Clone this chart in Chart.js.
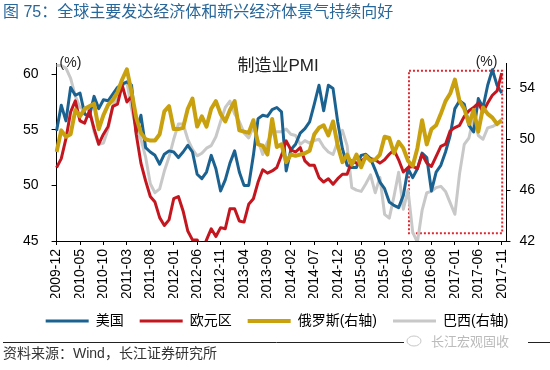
<!DOCTYPE html>
<html>
<head>
<meta charset="utf-8">
<script src="https://cdn.jsdelivr.net/npm/chart.js@4.4.0/dist/chart.umd.min.js"></script>
<style>
  html, body { margin: 0; padding: 0; background: #fff; }
</style>
</head>
<body>
<canvas id="myChart" width="550" height="370"></canvas>
<script>
const FONT = '"Liberation Sans", "Noto Sans CJK SC", sans-serif';

// monthly categories 2009-12 .. 2017-11, plus one empty slot so the axis runs past the last point
const months = [];
for (let y = 2009, m = 12; months.length < 97; m++) {
  if (m > 12) {
    m = 1;
    y++;
  }
  months.push(y + "-" + String(m).padStart(2, "0"));
}

const usData = [
  54.9,
  57.2, 55.8, 58.8, 58.1, 58.3, 56.4, 56.2, 58.0, 56.9, 57.7, 57.6, 58.2,
  58.8, 59.1, 59.3, 59.0, 54.8, 56.3, 53.4, 53.0, 52.7, 51.9, 52.8, 53.1,
  53.0, 52.5, 53.0, 53.6, 53.0, 51.0, 50.6, 51.2, 52.7, 51.5, 49.5, 50.5,
  52.0, 53.1, 51.2, 50.0, 50.0, 52.7, 56.0, 56.3, 56.2, 56.8, 57.0, 56.6,
  51.3, 53.2, 53.7, 54.7, 55.1, 55.7, 57.3, 59.0, 56.7, 59.0, 58.7, 55.7,
  53.3, 51.8, 51.6, 51.6, 52.7, 52.8, 52.4, 51.4, 50.3, 49.7, 48.5, 48.2,
  48.0, 49.1, 51.5, 50.7, 51.5, 52.9, 52.5, 49.5, 51.2, 51.8, 53.0, 54.5,
  56.9, 57.6, 57.3, 55.4, 54.8, 57.8, 57.0, 59.0, 60.4, 59.0, 58.3,
];

const euData = [
  51.6,
  52.4, 54.2, 56.6, 57.6, 55.8, 55.6, 56.7, 55.1, 53.7, 54.6, 55.3, 57.1,
  57.3, 59.0, 57.5, 58.0, 54.6, 52.0, 50.4, 49.0, 48.5, 47.1, 46.4, 46.9,
  48.8, 49.0, 47.7, 45.9, 45.1, 45.1, 44.0, 45.1, 46.1, 45.4, 46.2, 46.1,
  47.9, 47.9, 46.8, 46.7, 48.3, 48.8, 50.3, 51.4, 51.1, 51.3, 51.6, 52.7,
  54.0, 53.2, 53.0, 53.4, 52.2, 51.8, 51.8, 50.7, 50.3, 50.6, 50.1, 50.6,
  51.0, 51.0, 52.2, 52.0, 52.2, 52.5, 52.4, 52.3, 52.0, 52.3, 52.8, 53.2,
  52.3, 51.2, 51.6, 51.7, 51.5, 52.8, 52.0, 51.7, 52.6, 53.5, 53.7, 54.9,
  55.2, 55.4, 56.2, 56.7, 57.0, 57.4, 56.6, 57.4, 58.1, 58.5, 60.1,
];

const ruData = [
  49.0,
  50.7, 50.2, 50.4, 52.3, 51.8, 52.4, 52.6, 52.8, 50.8, 51.9, 52.7, 53.1,
  53.7, 54.7, 55.5, 53.7, 51.7, 50.5, 50.0, 49.9, 49.9, 50.4, 52.2, 52.6,
  50.8, 50.8, 50.9, 52.4, 53.2, 51.0, 51.8, 51.0, 52.4, 53.0, 52.0, 51.4,
  52.3, 53.0, 50.7, 50.6, 50.5, 51.5, 49.6, 49.5, 48.8, 51.6, 49.4, 49.6,
  48.2, 48.8, 48.7, 48.8, 48.9, 49.1, 50.4, 50.9, 51.1, 50.3, 51.4, 49.5,
  48.2, 48.8, 48.0, 48.8, 47.8, 48.7, 48.3, 48.4, 48.8, 50.2, 50.1, 48.9,
  49.8, 49.3, 48.3, 47.9, 49.3, 51.5, 49.6, 50.8, 51.1, 52.0, 53.0, 53.6,
  54.7, 53.0, 52.4, 51.2, 52.3, 50.6, 52.5, 52.0, 51.7, 51.2, 51.5,
];

const brData = [
  55.8,
  55.8, 55.6, 54.8, 53.4, 52.5, 52.3, 52.4, 50.6, 49.6, 49.7, 50.8, 52.6,
  53.4, 54.2, 54.5, 52.4, 50.8, 50.0, 48.6, 46.5, 45.8, 46.1, 47.5, 48.6,
  50.0, 51.2, 51.2, 50.0, 49.2, 48.7, 48.9, 49.3, 49.5, 50.2, 51.4, 52.5,
  53.0, 52.0, 51.4, 50.5, 50.1, 51.0, 49.9, 48.8, 49.8, 50.5, 50.6, 50.6,
  50.8, 50.4, 50.3, 49.6, 49.9, 49.7, 49.9, 50.0, 49.4, 49.0, 48.8, 49.8,
  50.7, 49.5, 46.2, 46.0, 45.9, 46.5, 47.2, 45.8, 47.0, 44.1, 43.8, 45.5,
  47.4, 44.5, 46.0, 42.7, 41.9, 44.4, 45.8, 45.9, 46.2, 46.3, 45.9, 45.0,
  44.1, 47.3, 49.6, 50.1, 51.8, 50.3, 50.0, 50.9, 51.0, 51.2, 51.6,
];

const leftTicks = [45, 50, 55, 60];
const rightTicks = [42, 46, 50, 54];

// dotted highlight box, in axis units (category index / left axis value)
const boxX = [75.2, 95.1];
const boxY = [45.7, 60.3];

const titleText = "图 75：全球主要发达经济体和新兴经济体景气持续向好";
const chartTitle = "制造业PMI";
const sourceText = "资料来源：Wind，长江证券研究所";

const extras = {
  id: "extras",
  beforeDatasetsDraw(chart) {
    const { ctx, scales } = chart;
    const l = scales.x.getPixelForValue(boxX[0]);
    const r = scales.x.getPixelForValue(boxX[1]);
    const t = scales.y.getPixelForValue(boxY[1]);
    const b = scales.y.getPixelForValue(boxY[0]);
    ctx.save();
    ctx.strokeStyle = "#e0262e";
    ctx.lineWidth = 2;
    ctx.setLineDash([2, 2]);
    ctx.strokeRect(l, t, r - l, b - t);
    ctx.restore();
  },
  afterDraw(chart) {
    const { ctx, chartArea } = chart;
    ctx.save();
    ctx.textBaseline = "middle";

    ctx.fillStyle = "#27679a";
    ctx.font = "16px " + FONT;
    ctx.fillText(titleText, 3, 13);

    ctx.fillStyle = "#222";
    ctx.font = "17px " + FONT;
    ctx.textAlign = "center";
    ctx.fillText(chartTitle, 278, 66);

    ctx.font = "14px " + FONT;
    ctx.textAlign = "left";
    ctx.fillText("(%)", chartArea.left + 3, 63);
    ctx.textAlign = "right";
    ctx.fillText("(%)", chartArea.right - 9, 62);

    // rule + source
    ctx.strokeStyle = "#222";
    ctx.lineWidth = 1;
    ctx.beginPath();
    ctx.moveTo(3, 342.5);
    ctx.lineTo(550, 342.5);
    ctx.stroke();
    ctx.fillStyle = "#fff";
    ctx.fillRect(404, 334, 124, 16);
    ctx.fillStyle = "#bbb";
    ctx.font = "13px " + FONT;
    ctx.textAlign = "left";
    ctx.fillText("长江宏观固收", 431, 342);
    ctx.strokeStyle = "#c8c8c8";
    ctx.beginPath();
    ctx.ellipse(414, 341, 7, 5, 0, 0, Math.PI * 2);
    ctx.stroke();

    ctx.fillStyle = "#333";
    ctx.font = "14px " + FONT;
    ctx.fillText(sourceText, 3, 354);
    ctx.restore();
  },
};

const axisGrid = {
  drawOnChartArea: false,
  drawTicks: true,
  tickLength: 5,
  color: "#000",
  tickColor: "#000",
};

const ctx = document.getElementById("myChart");

const myChart = new Chart(ctx, {
  type: "line",
  data: {
    labels: months,
    datasets: [
      {
        label: "美国",
        data: usData,
        borderColor: "#1b6291",
        borderWidth: 3,
        yAxisID: "y",
        order: 2,
      },
      {
        label: "欧元区",
        data: euData,
        borderColor: "#c3161f",
        borderWidth: 3,
        yAxisID: "y",
        order: 1,
      },
      {
        label: "俄罗斯(右轴)",
        data: ruData,
        borderColor: "#c9a00e",
        borderWidth: 4,
        yAxisID: "y2",
        order: 0,
      },
      {
        label: "巴西(右轴)",
        data: brData,
        borderColor: "#c8c8c8",
        borderWidth: 3,
        yAxisID: "y2",
        order: 3,
      },
    ],
  },
  options: {
    responsive: false,
    animation: false,
    events: [],
    layout: {
      padding: { top: 63, left: 10, right: 6, bottom: 32 },
    },
    elements: {
      point: { radius: 0 },
      line: { tension: 0, borderJoinStyle: "round" },
    },
    plugins: {
      tooltip: { enabled: false },
      legend: {
        position: "bottom",
        labels: {
          usePointStyle: true,
          pointStyleWidth: 43,
          padding: 16,
          color: "#222",
          font: { family: FONT, size: 14 },
          generateLabels: (chart) =>
            chart.data.datasets.map((ds, i) => ({
              text: ds.label,
              fillStyle: ds.borderColor,
              strokeStyle: ds.borderColor,
              lineWidth: ds.borderWidth,
              pointStyle: "line",
              hidden: false,
              datasetIndex: i,
            })),
        },
      },
    },
    scales: {
      x: {
        grid: { ...axisGrid, tickLength: 4 },
        border: { color: "#000", width: 1 },
        afterBuildTicks: (scale) => {
          scale.ticks = scale.ticks.filter((t) => t.value % 5 === 0 && t.value <= 95);
        },
        afterFit: (scale) => {
          scale.height = 57;
        },
        ticks: {
          autoSkip: false,
          minRotation: 90,
          maxRotation: 90,
          padding: 4,
          color: "#000",
          font: { family: FONT, size: 14 },
        },
      },
      y: {
        position: "left",
        min: 45,
        max: 61,
        grid: axisGrid,
        border: { color: "#000", width: 1 },
        afterBuildTicks: (scale) => {
          scale.ticks = leftTicks.map((v) => ({ value: v }));
        },
        ticks: {
          padding: 13,
          color: "#000",
          font: { family: FONT, size: 14 },
        },
      },
      y2: {
        position: "right",
        min: 42,
        max: 56,
        grid: { ...axisGrid, tickLength: 4 },
        border: { color: "#000", width: 1 },
        afterBuildTicks: (scale) => {
          scale.ticks = rightTicks.map((v) => ({ value: v }));
        },
        ticks: {
          padding: 9,
          color: "#000",
          font: { family: FONT, size: 14 },
        },
      },
    },
  },
  plugins: [extras],
});
</script>
</body>
</html>
